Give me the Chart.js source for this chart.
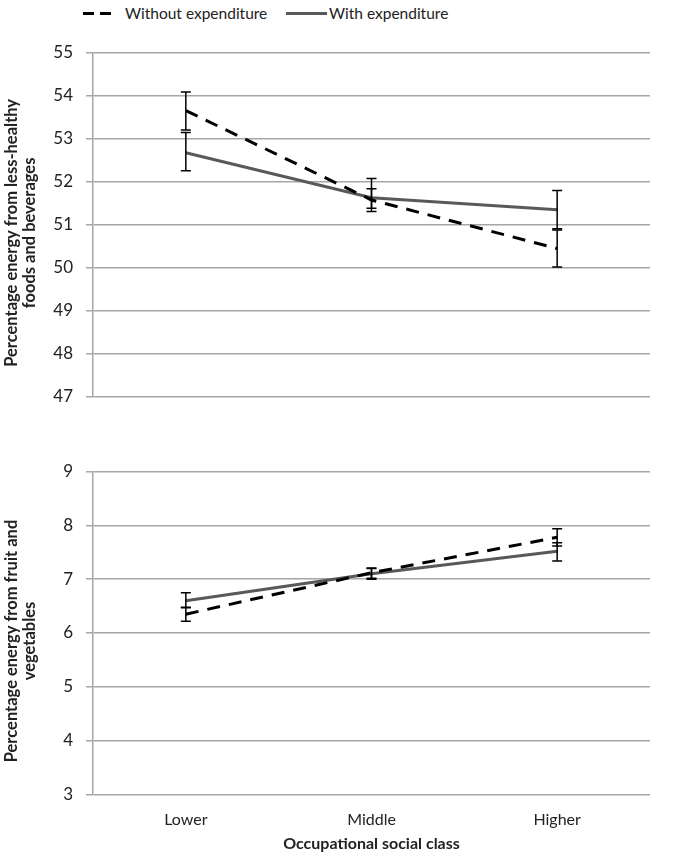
<!DOCTYPE html>
<html>
<head>
<meta charset="utf-8">
<script src="https://cdn.jsdelivr.net/npm/chart.js@4.4.0/dist/chart.umd.min.js"></script>
<style>
    body { margin: 0; background: #fff; width: 689px; height: 865px; position: relative; overflow: hidden; }
    canvas { position: absolute; left: 0; }
    #c1 { top: 0; }
    #c2 { top: 430px; }
    .legend { position: absolute; top: 2px; font-family: Lato, sans-serif; font-size: 15.5px; color: #222; line-height: 22px; }
    .dash { position: absolute; top: 12px; height: 3px; background: #000; }
    .solid { position: absolute; top: 12px; height: 3px; background: #595959; }
</style>
</head>
<body>
<div class="dash" style="left:83px;width:11px"></div>
<div class="dash" style="left:100px;width:11px"></div>
<div class="legend" style="left:125px">Without expenditure</div>
<div class="solid" style="left:286px;width:41px"></div>
<div class="legend" style="left:329px">With expenditure</div>
<canvas id="c1" width="689" height="420"></canvas>
<canvas id="c2" width="689" height="435"></canvas>
<script>
// data
const categories = ['Lower', 'Middle', 'Higher'];

const lessHealthyWithout = [53.66, 51.58, 50.45];
const lessHealthyWithoutLow = [53.21, 51.31, 50.02];
const lessHealthyWithoutHigh = [54.09, 51.84, 50.88];
const lessHealthyWith = [52.68, 51.63, 51.35];
const lessHealthyWithLow = [52.26, 51.39, 50.91];
const lessHealthyWithHigh = [53.15, 52.08, 51.80];

const fruitVegWithout = [6.35, 7.12, 7.78];
const fruitVegWithoutLow = [6.22, 7.02, 7.62];
const fruitVegWithoutHigh = [6.48, 7.21, 7.94];
const fruitVegWith = [6.60, 7.10, 7.52];
const fruitVegWithLow = [6.47, 7.00, 7.34];
const fruitVegWithHigh = [6.75, 7.20, 7.68];

const lessHealthyTicks = [47, 48, 49, 50, 51, 52, 53, 54, 55];
const fruitVegTicks = [3, 4, 5, 6, 7, 8, 9];

const FONT = 'Lato, sans-serif';
const GRID = '#a6a6a6';
const TEXT = '#222';

// draws the error bars from errLow / errHigh on each dataset
const errorBars = {
    id: 'errorBars',
    afterDatasetsDraw(chart) {
        const ctx = chart.ctx;
        const y = chart.scales.y;
        ctx.save();
        ctx.strokeStyle = '#000';
        ctx.lineWidth = 1.5;
        chart.data.datasets.forEach((ds, i) => {
            const meta = chart.getDatasetMeta(i);
            meta.data.forEach((pt, j) => {
                const x = pt.x;
                const yLo = y.getPixelForValue(ds.errLow[j]);
                const yHi = y.getPixelForValue(ds.errHigh[j]);
                ctx.beginPath();
                ctx.moveTo(x, yLo); ctx.lineTo(x, yHi);
                ctx.moveTo(x - 5, yLo); ctx.lineTo(x + 5, yLo);
                ctx.moveTo(x - 5, yHi); ctx.lineTo(x + 5, yHi);
                ctx.stroke();
            });
        });
        ctx.restore();
    }
};

// rotated y-axis title, a little below the middle of the axis like the original
const yTitle = {
    id: 'yTitle',
    afterDraw(chart, args, opts) {
        const ctx = chart.ctx;
        const area = chart.chartArea;
        ctx.save();
        ctx.translate(0, (area.top + area.bottom) / 2 + 8);
        ctx.rotate(-Math.PI / 2);
        ctx.fillStyle = TEXT;
        ctx.font = 'bold 16.5px ' + FONT;
        ctx.textAlign = 'center';
        ctx.textBaseline = 'middle';
        opts.lines.forEach((line, k) => ctx.fillText(line, 0, 12 + k * 18));
        ctx.restore();
    }
};

function makeDatasets(without, wLo, wHi, withE, eLo, eHi) {
    return [
        {
            label: 'Without expenditure',
            data: without, errLow: wLo, errHigh: wHi,
            borderColor: '#000', borderWidth: 3, borderDash: [13, 9],
            pointRadius: 0, tension: 0
        },
        {
            label: 'With expenditure',
            data: withE, errLow: eLo, errHigh: eHi,
            borderColor: '#595959', borderWidth: 3,
            pointRadius: 0, tension: 0
        }
    ];
}

function makeChart(id, datasets, ticks, title, opts) {
    return new Chart(document.getElementById(id), {
        type: 'line',
        data: { labels: categories, datasets: datasets },
        plugins: [errorBars, yTitle],
        options: {
            responsive: false,
            animation: false,
            layout: { padding: opts.padding },
            plugins: {
                legend: { display: false },
                tooltip: { enabled: false },
                yTitle: { lines: title }
            },
            scales: {
                x: {
                    offset: true,
                    display: opts.showX,
                    grid: { display: false, drawTicks: false },
                    border: { display: false },
                    ticks: { padding: 16, color: TEXT, font: { family: FONT, size: 16 } },
                    title: {
                        display: opts.showX,
                        text: 'Occupational social class',
                        color: TEXT,
                        font: { family: FONT, size: 16, weight: 'bold' },
                        padding: { top: 0, bottom: 12 }
                    },
                    afterFit: (s) => { if (opts.showX) s.height = 70.7; }
                },
                y: {
                    min: ticks[0],
                    max: ticks[ticks.length - 1],
                    afterBuildTicks: (s) => { s.ticks = ticks.map(v => ({ value: v })); },
                    afterFit: (s) => { s.width = 93; },
                    grid: { color: GRID, lineWidth: 1.5, tickLength: 7 },
                    border: { color: GRID, width: 1.5 },
                    ticks: { padding: 13, color: TEXT, font: { family: FONT, size: 17 } }
                }
            }
        }
    });
}

makeChart('c1',
    makeDatasets(lessHealthyWithout, lessHealthyWithoutLow, lessHealthyWithoutHigh,
                 lessHealthyWith, lessHealthyWithLow, lessHealthyWithHigh),
    lessHealthyTicks,
    ['Percentage energy from less-healthy', 'foods and beverages'],
    { padding: { top: 53, right: 39, bottom: 20, left: 0 }, showX: false });

makeChart('c2',
    makeDatasets(fruitVegWithout, fruitVegWithoutLow, fruitVegWithoutHigh,
                 fruitVegWith, fruitVegWithLow, fruitVegWithHigh),
    fruitVegTicks,
    ['Percentage energy from fruit and', 'vegetables'],
    { padding: { top: 41.7, right: 39, bottom: 0, left: 0 }, showX: true });
</script>
</body>
</html>
